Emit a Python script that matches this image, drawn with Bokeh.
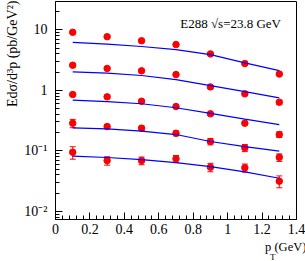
import numpy as np
from bokeh.plotting import figure
from bokeh.models import ColumnDataSource, FixedTicker, Whisker, TeeHead, Label, Range1d, Title
from bokeh.embed import file_html
from bokeh.resources import INLINE

# ---- data ----
pt = [0.1, 0.3, 0.5, 0.7, 0.9, 1.1, 1.3]

s1 = [9.1, 7.7, 6.6, 5.7, 4.0, 2.77, 1.86]
s2 = [2.6, 2.3, 2.1, 1.82, 1.14, 0.875, 0.635]
s3 = [0.853, 0.78, 0.66, 0.54, 0.41, 0.286, 0.186]
s4 = [0.286, 0.252, 0.237, 0.195, 0.1425, 0.112, 0.078]
s5 = [0.0948, 0.069, 0.069, 0.0738, 0.0536, 0.0525, 0.0315]

e1 = [0.3, 0.25, 0.2, 0.18, 0.13, 0.1, 0.1]
e2 = [0.09, 0.08, 0.07, 0.06, 0.045, 0.035, 0.05]
e3 = [0.035, 0.03, 0.03, 0.025, 0.02, 0.015, 0.02]
e4 = [0.045, 0.02, 0.02, 0.018, 0.017, 0.015, 0.011]
e5 = [0.022, 0.011, 0.010, 0.010, 0.0085, 0.008, 0.007]

c1 = [6.2, 5.8, 5.3, 4.7, 3.9, 2.85, 2.12]
c2 = [2.02, 1.93, 1.76, 1.50, 1.20, 0.95, 0.75]
c3 = [0.687, 0.65, 0.60, 0.515, 0.416, 0.335, 0.272]
c4 = [0.24, 0.231, 0.211, 0.186, 0.1425, 0.117, 0.0986]
c5 = [0.0815, 0.0776, 0.0718, 0.064, 0.055, 0.045, 0.0352]

x_ticks = [0, 0.2, 0.4, 0.6, 0.8, 1, 1.2, 1.4]
x_tick_labels = ["0", "0.2", "0.4", "0.6", "0.8", "1", "1.2", "1.4"]
y_ticks = [0.01, 0.1, 1, 10]
y_tick_labels = ["10\u207b\u00b2", "10\u207b\u00b9", "1", "10"]

title_text = "E288 \u221as=23.8 GeV"
y_title = "Ed\u03c3/d\u00b3p (pb/GeV\u00b2)"
x_title = "p  (GeV)"
x_title_sub = "T"

FONT = "Liberation Serif"

p = figure(width=305, height=261, output_backend="svg", toolbar_location=None,
           y_axis_type="log",
           x_range=Range1d(0, 1.4), y_range=Range1d(0.00733, 29.4),
           min_border_left=52, min_border_right=9, min_border_top=1, min_border_bottom=42)

p.xgrid.visible = False
p.ygrid.visible = False
p.outline_line_color = "black"
p.outline_line_width = 1
p.background_fill_color = "white"
p.border_fill_color = "white"

# axes
xminor = [round(a + 0.04 * k, 4) for a in x_ticks[:-1] for k in range(1, 5)]
p.xaxis.ticker = FixedTicker(ticks=x_ticks, minor_ticks=xminor)
p.xaxis.major_label_overrides = dict(zip(x_ticks, x_tick_labels))
yminor = [m * 10.0 ** d for d in range(-3, 2) for m in range(2, 10)]
p.yaxis.ticker = FixedTicker(ticks=y_ticks, minor_ticks=yminor)
p.yaxis.major_label_overrides = dict(zip(y_ticks, y_tick_labels))

for ax in (p.xaxis[0], p.yaxis[0]):
    ax.axis_line_color = "black"
    ax.major_tick_in = 7
    ax.major_tick_out = 0
    ax.minor_tick_in = 4
    ax.minor_tick_out = 0
    ax.major_tick_line_color = "black"
    ax.minor_tick_line_color = "black"
    ax.major_label_text_font = FONT
    ax.major_label_text_font_size = "14px"
    ax.major_label_text_color = "black"
p.xaxis.major_label_standoff = 4
p.yaxis.major_label_standoff = 8

series = [s1, s2, s3, s4, s5]
errs = [e1, e2, e3, e4, e5]
curves = [c1, c2, c3, c4, c5]

for s, e in zip(series, errs):
    src = ColumnDataSource(dict(x=pt, y=s,
                                lo=[a - b for a, b in zip(s, e)],
                                hi=[a + b for a, b in zip(s, e)]))
    w = Whisker(base="x", lower="lo", upper="hi", source=src, line_color="red", line_width=1,
                upper_head=TeeHead(size=6, line_color="red", line_width=1),
                lower_head=TeeHead(size=6, line_color="red", line_width=1))
    p.add_layout(w)
    p.scatter("x", "y", source=src, marker="circle", size=6.5, color="red")

for c in curves:
    p.line(pt, c, line_color="blue", line_width=1.2)

# in-frame title
p.add_layout(Label(x=1.31, y=12.7, text=title_text, text_align="right", text_baseline="middle",
                   text_font=FONT, text_font_size="13px", text_color="black"))

# axis titles as side titles
p.add_layout(Title(text=y_title, align="right", text_font=FONT, text_font_size="14px",
                   text_font_style="normal", text_color="black", standoff=4, offset=-1), "left")
p.add_layout(Title(text=x_title, align="right", text_font=FONT, text_font_size="12.5px",
                   text_font_style="normal", text_color="black", standoff=3, offset=-13), "below")
sub = Title(text=x_title_sub, align="right", text_font=FONT, text_font_size="9px",
            text_font_style="normal", text_color="black", standoff=0, offset=21)
try:
    sub.standoff = -13
except Exception:
    pass
p.add_layout(sub, "below")

open("out.html", "w").write(file_html(p, INLINE))
